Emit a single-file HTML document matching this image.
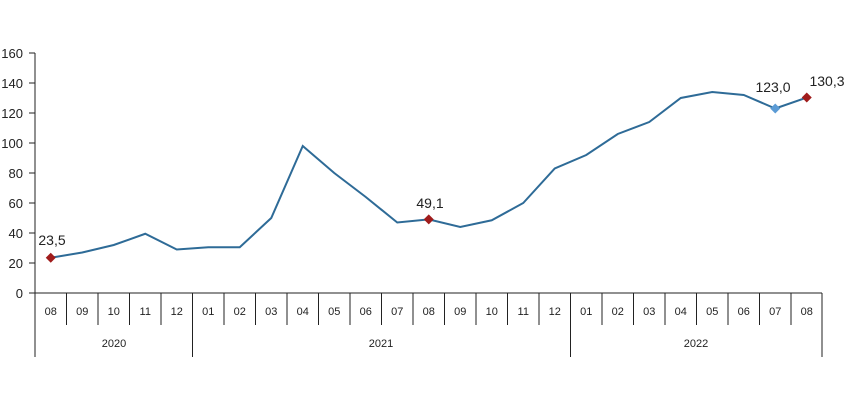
<!DOCTYPE html><html><head><style>body{margin:0;background:#fff}svg{display:block;font-family:"Liberation Sans",sans-serif}</style></head><body>
<svg width="850" height="400" xmlns="http://www.w3.org/2000/svg">
<g font-size="13" fill="#222" text-anchor="end">
<text x="23" y="298">0</text><text x="23" y="268">20</text><text x="23" y="238">40</text><text x="23" y="208">60</text><text x="23" y="178">80</text><text x="23" y="148">100</text><text x="23" y="118">120</text><text x="23" y="88">140</text><text x="23" y="58">160</text>
</g>
<g stroke="#222" stroke-width="1">
<line x1="35" y1="53" x2="35" y2="357"/>
<line x1="29" y1="293" x2="822" y2="293"/>
<line x1="29" y1="263" x2="35" y2="263"/><line x1="29" y1="233" x2="35" y2="233"/><line x1="29" y1="203" x2="35" y2="203"/><line x1="29" y1="173" x2="35" y2="173"/><line x1="29" y1="143" x2="35" y2="143"/><line x1="29" y1="113" x2="35" y2="113"/><line x1="29" y1="83" x2="35" y2="83"/><line x1="29" y1="53" x2="35" y2="53"/>
<line x1="192.5" y1="293" x2="192.5" y2="357"/><line x1="570.5" y1="293" x2="570.5" y2="357"/><line x1="822" y1="293" x2="822" y2="357"/>
<line x1="66.5" y1="293" x2="66.5" y2="325"/><line x1="98" y1="293" x2="98" y2="325"/><line x1="129.5" y1="293" x2="129.5" y2="325"/><line x1="161" y1="293" x2="161" y2="325"/><line x1="224" y1="293" x2="224" y2="325"/><line x1="255.5" y1="293" x2="255.5" y2="325"/><line x1="287" y1="293" x2="287" y2="325"/><line x1="318.5" y1="293" x2="318.5" y2="325"/><line x1="350" y1="293" x2="350" y2="325"/><line x1="381.5" y1="293" x2="381.5" y2="325"/><line x1="413" y1="293" x2="413" y2="325"/><line x1="444.5" y1="293" x2="444.5" y2="325"/><line x1="476" y1="293" x2="476" y2="325"/><line x1="507.5" y1="293" x2="507.5" y2="325"/><line x1="539" y1="293" x2="539" y2="325"/><line x1="602" y1="293" x2="602" y2="325"/><line x1="633.5" y1="293" x2="633.5" y2="325"/><line x1="665" y1="293" x2="665" y2="325"/><line x1="696.5" y1="293" x2="696.5" y2="325"/><line x1="728" y1="293" x2="728" y2="325"/><line x1="759.5" y1="293" x2="759.5" y2="325"/><line x1="791" y1="293" x2="791" y2="325"/>
</g>
<g font-size="11" fill="#222" text-anchor="middle">
<text x="50.75" y="315">08</text><text x="82.25" y="315">09</text><text x="113.75" y="315">10</text><text x="145.25" y="315">11</text><text x="176.75" y="315">12</text><text x="208.25" y="315">01</text><text x="239.75" y="315">02</text><text x="271.25" y="315">03</text><text x="302.75" y="315">04</text><text x="334.25" y="315">05</text><text x="365.75" y="315">06</text><text x="397.25" y="315">07</text><text x="428.75" y="315">08</text><text x="460.25" y="315">09</text><text x="491.75" y="315">10</text><text x="523.25" y="315">11</text><text x="554.75" y="315">12</text><text x="586.25" y="315">01</text><text x="617.75" y="315">02</text><text x="649.25" y="315">03</text><text x="680.75" y="315">04</text><text x="712.25" y="315">05</text><text x="743.75" y="315">06</text><text x="775.25" y="315">07</text><text x="806.75" y="315">08</text>
<text x="114" y="347">2020</text><text x="381" y="347">2021</text><text x="696" y="347">2022</text>
</g>
<polyline fill="none" stroke="#2e6b97" stroke-width="2" points="50.75,257.75 82.25,252.5 113.75,245 145.25,233.75 176.75,249.5 208.25,247.25 239.75,247.25 271.25,218 302.75,146 334.25,173 365.75,197 397.25,222.5 428.75,219.35 460.25,227 491.75,220.25 523.25,203 554.75,168.5 586.25,155 617.75,134 649.25,122 680.75,98 712.25,92 743.75,95 775.25,108.5 806.75,97.55"/>
<polygon points="50.75,252.75 55.75,257.75 50.75,262.75 45.75,257.75" fill="#a01c1c"/>
<polygon points="428.75,214.35 433.75,219.35 428.75,224.35 423.75,219.35" fill="#a01c1c"/>
<polygon points="806.75,92.55 811.75,97.55 806.75,102.55 801.75,97.55" fill="#a01c1c"/>
<polygon points="775.25,103.5 780.25,108.5 775.25,113.5 770.25,108.5" fill="#5b9bd5"/>
<g font-size="14" fill="#222" text-anchor="middle"><text x="52" y="245">23,5</text><text x="430" y="208">49,1</text><text x="773" y="92">123,0</text><text x="827" y="86">130,3</text></g>
</svg></body></html>
